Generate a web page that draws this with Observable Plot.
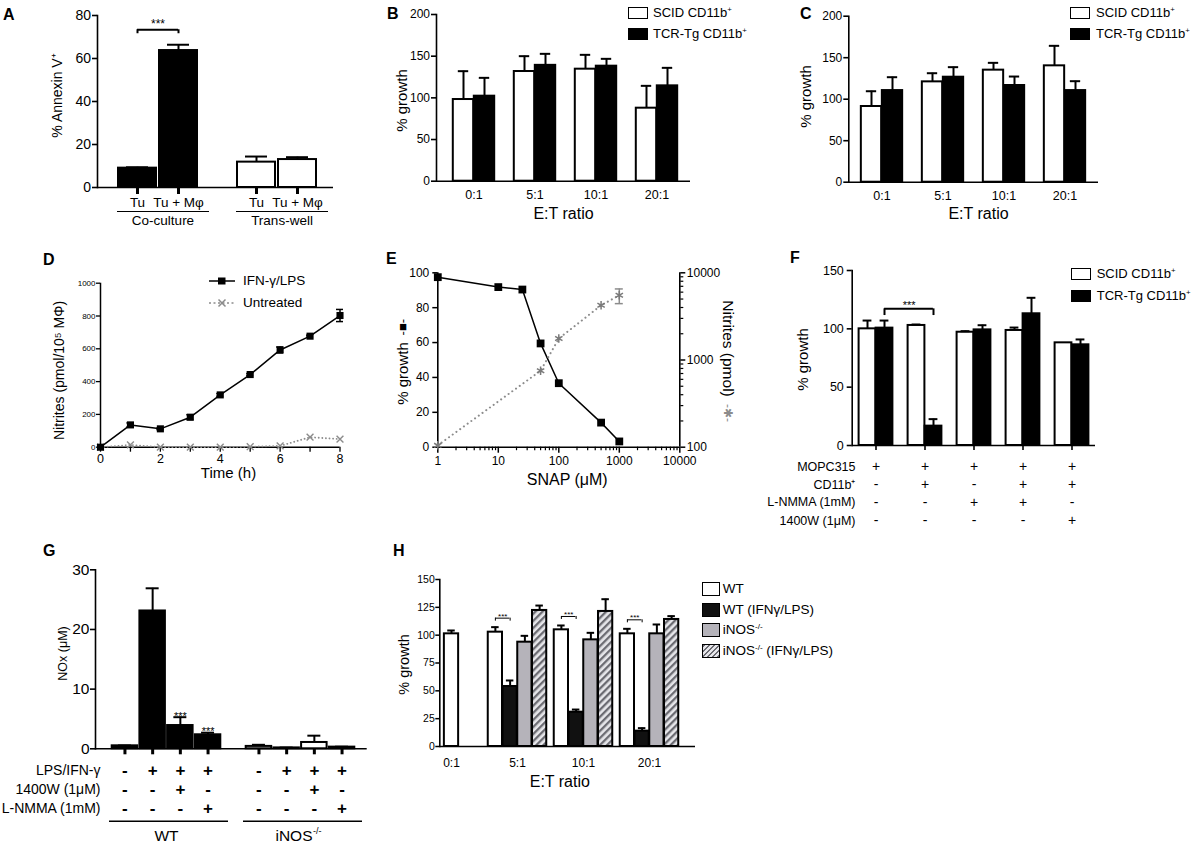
<!DOCTYPE html>
<html>
<head>
<meta charset="utf-8">
<script src="https://cdn.jsdelivr.net/npm/d3@7"></script>
<script src="https://cdn.jsdelivr.net/npm/@observablehq/plot@0.6"></script>
<style>
html,body{margin:0;padding:0;background:#fff;}
#fig{position:relative;width:1194px;height:846px;overflow:hidden;font-family:"Liberation Sans",Arial,Helvetica,sans-serif;color:#000;}
#fig > svg{position:absolute;left:0;top:0;}
.lg{position:absolute;display:flex;align-items:center;white-space:nowrap;font-size:14px;line-height:16px;}
.sw{display:inline-block;box-sizing:border-box;border:1.8px solid #000;}
.lt{position:absolute;font-weight:bold;font-size:16px;line-height:16px;}
.lg sup{font-size:0.6em;vertical-align:0.6em;line-height:0;}
</style>
</head>
<body>
<div id="fig"></div>
<script>
// ================= DATA =================
// Panel A
const aGroups = ["Co-culture", "Trans-well"];
const aBars = ["Tu", "Tu + Mφ"];
const aTu = [9.0, 11.8];
const aTuErr = [9.4, 14.4];
const aTuMphi = [63.7, 13.0];
const aTuMphiErr = [66.4, 14.1];
const aSig = [{c1: "Co-culture", s1: 0, c2: "Co-culture", s2: 1, label: "***"}];

// Panels B, C
const ratios = ["0:1", "5:1", "10:1", "20:1"];
const cd11bSeries = ["SCID CD11b", "TCR-Tg CD11b"];
const bSCID = [98, 131.6, 134.4, 87.6];
const bSCIDErr = [132, 150, 151.6, 114.4];
const bTCR = [102, 139, 138, 114.4];
const bTCRErr = [124, 152.8, 146.8, 136];
const cSCID = [91.2, 120.9, 135, 140.2];
const cSCIDErr = [109.6, 131.3, 143.8, 164.3];
const cTCR = [110.4, 126.5, 116.5, 110.4];
const cTCRErr = [126.5, 138.6, 127.3, 121.7];

// Panel D
const dSeries = ["IFN-γ/LPS", "Untreated"];
const dTime = [0, 1, 2, 3, 4, 5, 6, 7, 8];
const dIFN = [0, 136, 112, 183, 319, 443, 593, 677, 803];
const dIFNErr = [0, 12, 5, 15, 8, 6, 18, 6, 37];
const dUntreated = [0, 14, 0, 0, 0, 3, 8, 61, 49];

// Panel E
const eSNAP = [1, 10, 25, 50, 100, 500, 1000];
const eGrowth = [97.5, 91.8, 90.4, 59.5, 36.7, 14.1, 3.3];
const eNitSNAP = [1, 50, 100, 500, 1000];
const eNitrites = [105, 753, 1762, 4236, 5520];
const eNitLow = [null, null, null, null, 4430];
const eNitHigh = [null, null, null, null, 6530];

// Panel F
const fConds = ["c1", "c2", "c3", "c4", "c5"];
const fSCID = [100, 102.9, 97.1, 98.6, 88];
const fSCIDErr = [107.1, 103.7, 98, 101.1, 88];
const fTCR = [100.6, 16.6, 99.1, 112.9, 86.3];
const fTCRErr = [107.1, 22.6, 103.1, 126.6, 90.9];
const fRowLabels = ["MOPC315", "CD11b⁺", "L-NMMA (1mM)", "1400W (1μM)"];
const fTable = [["+", "+", "+", "+", "+"], ["-", "+", "-", "+", "+"], ["-", "-", "+", "+", "-"], ["-", "-", "-", "-", "+"]];
const fSig = [{c1: "c1", s1: 1, c2: "c2", s2: 1, label: "***"}];

// Panel G
const gGenotypes = ["WT", "iNOS-/-"];
const gNone = [0.5, 0.4], gNoneErr = [0.55, 0.67];
const gLPS = [23.1, 0.15], gLPSErr = [26.9, 0.2];
const gLPS1400W = [3.9, 1.06], gLPS1400WErr = [5.3, 2.2];
const gLPSNMMA = [2.35, 0.28], gLPSNMMAErr = [2.7, 0.35];
const gRowLabels = ["LPS/IFN-γ", "1400W (1μM)", "L-NMMA (1mM)"];
const gTable = [["-", "+", "+", "+"], ["-", "-", "+", "-"], ["-", "-", "-", "+"]];
const gStars = [["", "", "***", "***"], ["", "", "", ""]];

// Panel H
const hSeries = ["WT", "WT (IFNγ/LPS)", "iNOS-/-", "iNOS-/- (IFNγ/LPS)"];
const hWT = [101.2, 102.7, 104.8, 101.2], hWTErr = [104.2, 107.2, 108.7, 105.7];
const hWTIFN = [null, 53.9, 30.8, 13.8], hWTIFNErr = [null, 59.3, 33.2, 16.5];
const hKO = [null, 93.7, 95.8, 101.2], hKOErr = [null, 99.4, 102.1, 109.6];
const hKOIFN = [null, 122.2, 121.3, 114.1], hKOIFNErr = [null, 126.6, 132.3, 117.1];
const hSig = [
  {c1: "5:1", s1: 0, c2: "5:1", s2: 1, label: "***"},
  {c1: "10:1", s1: 0, c2: "10:1", s2: 1, label: "***"},
  {c1: "20:1", s1: 0, c2: "20:1", s2: 1, label: "***"}
];

// ================= HELPERS =================
const W = 1194, H = 846;
const FONT = '"Liberation Sans", Arial, Helvetica, sans-serif';
const fig = document.getElementById("fig");
const base = F => ({
  width: W, height: H,
  marginLeft: F.l, marginRight: W - F.r, marginTop: F.t, marginBottom: H - F.b,
  style: {background: "transparent", fontFamily: FONT, overflow: "visible", color: "#000"}
});
const add = svg => { fig.appendChild(svg); return svg; };
const label = (F, s, x, y, o = {}) =>
  Plot.text([s], {frameAnchor: "top-left", dx: x - F.l, dy: y - F.t, text: d => d,
    textAnchor: "middle", lineAnchor: "middle", fontSize: 15, fill: "#000", ...o});

function barRows(cats, vals, errs, fills, slot) {
  const rows = [];
  cats.forEach((c, i) => {
    const present = vals.map((_, k) => k).filter(k => vals[k][i] != null);
    present.forEach((k, j) => rows.push({
      cat: c, k, v: vals[k][i], e: errs[k][i],
      fill: typeof fills === "function" ? fills(c, k) : fills[k],
      off: (j - (present.length - 1) / 2) * slot
    }));
  });
  return rows;
}
function barMarks(rows, {step, barW, capW, sw = 2}) {
  const marks = [];
  for (const [, g] of d3.groups(rows, r => `${r.off}|${r.fill}`)) {
    const {off, fill} = g[0];
    const il = step / 2 + off - barW / 2, ir = step / 2 - off - barW / 2;
    marks.push(Plot.barY(g, {x: "cat", y: "v", fill, stroke: "#000", strokeWidth: sw, insetLeft: il, insetRight: ir}));
    const ge = g.filter(r => r.e != null && r.e > r.v);
    marks.push(Plot.ruleX(ge, {x: "cat", y1: "v", y2: "e", dx: off, stroke: "#000", strokeWidth: sw}));
    marks.push(Plot.tickY(ge, {x: "cat", y: "e", stroke: "#000", strokeWidth: sw,
      insetLeft: step / 2 + off - capW / 2, insetRight: step / 2 - off - capW / 2}));
  }
  return marks;
}
function sigMarks(rows, sigs, domain, {step, dyB, drop, dyS, fs, sw = 1.5}) {
  const marks = [];
  for (const s of sigs) {
    const r1 = rows.find(r => r.cat === s.c1 && r.k === s.s1);
    const r2 = rows.find(r => r.cat === s.c2 && r.k === s.s2);
    const gap = (domain.indexOf(s.c2) - domain.indexOf(s.c1)) * step;
    const d = {...s, y: Math.max(r1.e ?? r1.v, r2.e ?? r2.v)};
    const mid = (r1.off + gap + r2.off) / 2;
    marks.push(
      Plot.ruleY([d], {x1: "c1", x2: "c2", y: "y", dy: dyB, insetLeft: step / 2 + r1.off, insetRight: step / 2 - r2.off, stroke: "#000", strokeWidth: sw}),
      Plot.ruleX([d], {x: "c1", y1: "y", y2: "y", dx: r1.off, dy: dyB, insetBottom: -drop, stroke: "#000", strokeWidth: sw}),
      Plot.ruleX([d], {x: "c2", y1: "y", y2: "y", dx: r2.off, dy: dyB, insetBottom: -drop, stroke: "#000", strokeWidth: sw}),
      Plot.text([d], {x: "c1", y: "y", dx: mid, dy: dyS, text: "label", fontSize: fs})
    );
  }
  return marks;
}
function place(html, left, top, cls, extra = "") {
  const d = document.createElement("div");
  d.className = cls;
  d.style.cssText = `left:${left}px;top:${top}px;${extra}`;
  d.innerHTML = html;
  fig.appendChild(d);
  return d;
}
function swatchLegend(items, left, centers, {w, h, gap, fs}) {
  items.forEach((it, i) => place(
    `<span class="sw" style="width:${w}px;height:${h}px;margin-right:${gap}px;background:${it.bg}"></span><span>${it.html}</span>`,
    left, centers[i] - 8, "lg", `font-size:${fs}px`));
}
const sup = s => s.replace(/(CD11b)$/, "$1<sup>+</sup>").replace(/-\/-/, "<sup>-/-</sup>");

// ================= PANEL A =================
{
  const F = {l: 97, r: 333, t: 15, b: 187};
  const step = 119, slot = 41;
  const rows = barRows(aGroups, [aTu, aTuMphi], [aTuErr, aTuMphiErr], (c) => c === "Co-culture" ? "#000" : "#fff", slot);
  add(Plot.plot({...base(F),
    x: {type: "band", domain: aGroups, range: [98, 336], padding: 0, axis: null},
    y: {domain: [0, 80], axis: null},
    marks: [
      ...barMarks(rows, {step, barW: 38, capW: 22}),
      Plot.ruleY([0], {strokeWidth: 1.6}),
      Plot.frame({anchor: "left", strokeWidth: 1.6}),
      Plot.axisY({ticks: [0, 20, 40, 60, 80], tickSize: 5, tickPadding: 1.5, fontSize: 14, strokeWidth: 1.6, label: null}),
      ...aBars.map((b, k) => Plot.axisX({tickSize: 7, tickPadding: 3, strokeWidth: 3, dx: (k - 0.5) * slot, tickFormat: () => b, fontSize: 13.5, label: null})),
      Plot.ruleY(aGroups, {x1: d => d, x2: d => d, y: () => 0, dy: 24, insetLeft: 19, insetRight: 8, strokeWidth: 1}),
      Plot.text(aGroups, {x: d => d, y: () => 0, dy: 33, dx: 5, text: d => d, fontSize: 13.5}),
      ...sigMarks(rows, aSig, aGroups, {step, dyB: -15, drop: 4, dyS: -21, fs: 12, sw: 2}),
      label(F, "% Annexin V⁺", 57, 95, {rotate: -90, fontSize: 14})
    ]
  }));
}

// ================= PANELS B, C =================
function growthPanel(F, range, scid, scidErr, tcr, tcrErr, titleX, ylabX, ylabY) {
  const step = (range[1] - range[0]) / ratios.length;
  const rows = barRows(ratios, [scid, tcr], [scidErr, tcrErr], ["#fff", "#000"], 21);
  add(Plot.plot({...base(F),
    x: {type: "band", domain: ratios, range, padding: 0, axis: null},
    y: {domain: [0, 200], axis: null},
    marks: [
      ...barMarks(rows, {step, barW: 21, capW: 11}),
      Plot.ruleY([0], {strokeWidth: 1.6}),
      Plot.frame({anchor: "left", strokeWidth: 1.6}),
      Plot.axisY({ticks: [0, 50, 100, 150, 200], tickSize: 5, tickPadding: 1.5, fontSize: 12, strokeWidth: 1.6, label: null}),
      Plot.axisX({tickSize: 0, tickPadding: 9.3, fontSize: 12.5, label: null}),
      label(F, "% growth", ylabX, ylabY, {rotate: -90, fontSize: 15}),
      label(F, "E:T ratio", titleX, 213, {fontSize: 16})
    ]
  }));
}
growthPanel({l: 436, r: 690, t: 14, b: 180.7}, [441.7, 688.1], bSCID, bSCIDErr, bTCR, bTCRErr, 563, 401.5, 100);
growthPanel({l: 848.3, r: 1098, t: 15.7, b: 181.7}, [849.2, 1095.9], cSCID, cSCIDErr, cTCR, cTCRErr, 978, 805.5, 96);

// ================= PANEL D =================
{
  const F = {l: 100, r: 339.5, t: 282.7, b: 446.7};
  const rows = dTime.map((t, i) => ({t, ifn: dIFN[i], err: dIFNErr[i], unt: dUntreated[i]}));
  const er = rows.filter(d => d.err > 0);
  add(Plot.plot({...base(F),
    x: {domain: [0, 8], axis: null},
    y: {domain: [0, 1000], axis: null},
    marks: [
      Plot.ruleY([0], {strokeWidth: 1.5}),
      Plot.ruleX([0], {strokeWidth: 1.5}),
      Plot.axisY({ticks: d3.range(0, 1001, 200), tickFormat: d3.format("d"), tickSize: 4, tickPadding: 1, fontSize: 8, strokeWidth: 1.3, label: null}),
      Plot.axisX({ticks: dTime, tickFormat: d => d % 2 ? "" : d, tickSize: 5, tickPadding: 1.5, fontSize: 12.5, strokeWidth: 1.3, label: null}),
      Plot.line(rows, {x: "t", y: "unt", stroke: "#8c8c8c", strokeWidth: 1.8, strokeDasharray: "0.1,3.5", strokeLinecap: "round"}),
      Plot.dot(rows, {x: "t", y: "unt", symbol: "times", r: 3.2, stroke: "#8c8c8c", strokeWidth: 1.4}),
      Plot.line(rows, {x: "t", y: "ifn", stroke: "#000", strokeWidth: 1.5}),
      Plot.ruleX(er, {x: "t", y1: d => d.ifn - d.err, y2: d => d.ifn + d.err, strokeWidth: 1.5}),
      Plot.ruleY(er, {x1: "t", x2: "t", y: d => d.ifn + d.err, insetLeft: -3.5, insetRight: -3.5, strokeWidth: 1.5}),
      Plot.ruleY(er, {x1: "t", x2: "t", y: d => d.ifn - d.err, insetLeft: -3.5, insetRight: -3.5, strokeWidth: 1.5}),
      Plot.dot(rows, {x: "t", y: "ifn", symbol: "square", r: 4, fill: "#000"}),
      label(F, "Nitrites (pmol/10⁵ MΦ)", 59, 370, {rotate: -90, fontSize: 14}),
      label(F, "Time (h)", 228, 473, {fontSize: 15})
    ]
  }));
}

// ================= PANEL E =================
{
  const F = {l: 437.3, r: 679.3, t: 272.3, b: 446.7};
  const rows = eSNAP.map((s, i) => ({s, g: eGrowth[i]}));
  const nrows = eNitSNAP.map((s, i) => ({s, n: eNitrites[i], lo: eNitLow[i], hi: eNitHigh[i]}));
  const nerr = nrows.filter(d => d.lo != null);
  const isDecade = v => Math.abs(Math.log10(v) - Math.round(Math.log10(v))) < 1e-6;
  const xMinor = d3.scaleLog().domain([1, 10000]).ticks().filter(v => !isDecade(v));
  const yMinor = d3.scaleLog().domain([100, 10000]).ticks().filter(v => !isDecade(v));
  add(Plot.plot({...base(F),
    x: {type: "log", domain: [1, 10000], axis: null},
    y: {domain: [0, 100], axis: null},
    marks: [
      Plot.ruleY([0], {strokeWidth: 1.6}),
      Plot.ruleX([1], {strokeWidth: 1.6}),
      Plot.axisY({ticks: [0, 20, 40, 60, 80, 100], tickSize: 5, tickPadding: 3.5, fontSize: 12, strokeWidth: 1.5, label: null}),
      Plot.axisX({ticks: [1, 10, 100, 1000, 10000], tickFormat: d3.format("d"), tickSize: 6, tickPadding: 3, fontSize: 12, strokeWidth: 1.5, label: null}),
      Plot.axisX({ticks: xMinor, tickFormat: () => "", tickSize: 3.5, strokeWidth: 1.2, label: null}),
      Plot.line(rows, {x: "s", y: "g", stroke: "#000", strokeWidth: 1.5}),
      Plot.dot(rows, {x: "s", y: "g", symbol: "square", r: 4.4, fill: "#000"}),
      label(F, "SNAP (μM)", 566.7, 479.3, {fontSize: 16}),
      label(F, "% growth", 402.7, 373, {rotate: -90, fontSize: 15}),
      label(F, "-■-", 402.7, 326.7, {rotate: -90, fontSize: 13})
    ]
  }));
  add(Plot.plot({...base(F),
    x: {type: "log", domain: [1, 10000], axis: null},
    y: {type: "log", domain: [100, 10000], axis: null},
    marks: [
      Plot.ruleX([10000], {strokeWidth: 1.6}),
      Plot.axisY({anchor: "right", ticks: [100, 1000, 10000], tickFormat: d3.format("d"), tickSize: 5, tickPadding: 2, fontSize: 12, strokeWidth: 1.5, label: null}),
      Plot.axisY({anchor: "right", ticks: yMinor, tickFormat: () => "", tickSize: 3, strokeWidth: 1.2, label: null}),
      Plot.line(nrows, {x: "s", y: "n", stroke: "#8c8c8c", strokeWidth: 2, strokeDasharray: "0.1,4.5", strokeLinecap: "round"}),
      Plot.ruleX(nerr, {x: "s", y1: "lo", y2: "hi", stroke: "#8c8c8c", strokeWidth: 1.5}),
      Plot.ruleY(nerr, {x1: "s", x2: "s", y: "hi", insetLeft: -4, insetRight: -4, stroke: "#8c8c8c", strokeWidth: 1.5}),
      Plot.ruleY(nerr, {x1: "s", x2: "s", y: "lo", insetLeft: -4, insetRight: -4, stroke: "#8c8c8c", strokeWidth: 1.5}),
      Plot.dot(nrows, {x: "s", y: "n", symbol: "asterisk", r: 4, stroke: "#7a7a7a", strokeWidth: 1.5}),
      label(F, "Nitrites (pmol)", 727.5, 348, {rotate: 90, fontSize: 15.5}),
      label(F, "-✱-", 727.5, 412.6, {rotate: 90, fontSize: 12, fill: "#8c8c8c"})
    ]
  }));
}

// ================= PANEL F =================
{
  const F = {l: 851.7, r: 1095, t: 270, b: 445};
  const range = [850.4, 1096.4], step = (range[1] - range[0]) / fConds.length;
  const rows = barRows(fConds, [fSCID, fTCR], [fSCIDErr, fTCRErr], ["#fff", "#000"], 17);
  const rowDy = [21, 39, 56.7, 75];
  add(Plot.plot({...base(F),
    x: {type: "band", domain: fConds, range, padding: 0, axis: null},
    y: {domain: [0, 150], axis: null},
    marks: [
      ...barMarks(rows, {step, barW: 17, capW: 9}),
      Plot.ruleY([0], {strokeWidth: 1.6}),
      Plot.frame({anchor: "left", strokeWidth: 1.6}),
      Plot.axisY({ticks: [0, 50, 100, 150], tickSize: 5, tickPadding: 3.4, fontSize: 12.5, strokeWidth: 1.6, label: null}),
      Plot.axisX({tickSize: 5, tickFormat: () => "", strokeWidth: 1.6, label: null}),
      ...fRowLabels.flatMap((lab, r) => [
        Plot.text(fConds, {x: d => d, y: () => 0, dy: rowDy[r], text: (d, i) => fTable[r][i], fontSize: 14}),
        Plot.text([lab], {frameAnchor: "bottom-left", dx: 3.3, dy: rowDy[r], textAnchor: "end", lineAnchor: "middle", text: d => d, fontSize: 12.5})
      ]),
      ...sigMarks(rows, fSig, fConds, {step, dyB: -11.7, drop: 6.7, dyS: -15.5, fs: 11, sw: 2}),
      label(F, "% growth", 803, 359, {rotate: -90, fontSize: 15})
    ]
  }));
}

// ================= PANEL G =================
{
  const F = {l: 95, r: 366.7, t: 569.3, b: 748.3};
  const range = [98.5, 366.5], step = (range[1] - range[0]) / 2, slot = 27.7;
  const rows = barRows(gGenotypes, [gNone, gLPS, gLPS1400W, gLPSNMMA], [gNoneErr, gLPSErr, gLPS1400WErr, gLPSNMMAErr],
    (c) => c === "WT" ? "#000" : "#fff", slot);
  const rowDy = [21.7, 41, 60];
  const starRows = rows.filter(r => gStars[gGenotypes.indexOf(r.cat)][r.k]);
  add(Plot.plot({...base(F),
    x: {type: "band", domain: gGenotypes, range, padding: 0, axis: null},
    y: {domain: [0, 30], axis: null},
    marks: [
      ...barMarks(rows, {step, barW: 25.5, capW: 13}),
      Plot.ruleY([0], {strokeWidth: 1.6}),
      Plot.frame({anchor: "left", strokeWidth: 1.6}),
      Plot.axisY({ticks: [0, 10, 20, 30], tickSize: 5, tickPadding: 1, fontSize: 15.5, strokeWidth: 1.6, label: null}),
      ...[0, 1, 2, 3].map(k => Plot.axisX({tickSize: 6, tickFormat: () => "", strokeWidth: 3, dx: (k - 1.5) * slot, label: null})),
      ...d3.groups(starRows, r => r.off).map(([off, g]) =>
        Plot.text(g, {x: "cat", y: "e", dx: off, dy: -1, text: r => gStars[gGenotypes.indexOf(r.cat)][r.k], fontSize: 11})),
      ...gRowLabels.flatMap((lab, r) => [
        ...[0, 1, 2, 3].map(k => Plot.text(gGenotypes, {x: d => d, y: () => 0, dx: (k - 1.5) * slot, dy: rowDy[r], text: () => gTable[r][k], fontSize: 17, fontWeight: "bold"})),
        Plot.text([lab], {frameAnchor: "bottom-left", dx: 5, dy: rowDy[r], textAnchor: "end", lineAnchor: "middle", text: d => d, fontSize: 14})
      ]),
      Plot.ruleY(gGenotypes, {x1: d => d, x2: d => d, y: () => 0, dy: 72.4, insetLeft: 10, insetRight: 5, strokeWidth: 1.6}),
      Plot.text(gGenotypes.slice(0, 1), {x: d => d, y: () => 0, dy: 87, text: d => d, fontSize: 15.5}),
      Plot.text(gGenotypes.slice(1), {x: d => d, y: () => 0, dy: 87, dx: 12, textAnchor: "end", text: d => d.replace("-/-", ""), fontSize: 15.5}),
      Plot.text(gGenotypes.slice(1), {x: d => d, y: () => 0, dy: 82, dx: 12.5, textAnchor: "start", text: () => "-/-", fontSize: 9}),
      label(F, "NOx (μM)", 62, 653, {rotate: -90, fontSize: 12.5})
    ]
  }));
}

// ================= PANEL H =================
{
  const F = {l: 439.3, r: 695, t: 579, b: 746};
  const range = [416.75, 682.75], step = (range[1] - range[0]) / ratios.length, slot = 14.75;
  const fills = ["#fff", "#111", "#b5b3ba", "url(#hatch)"];
  const rows = barRows(ratios, [hWT, hWTIFN, hKO, hKOIFN], [hWTErr, hWTIFNErr, hKOErr, hKOIFNErr], fills, slot);
  const svg = add(Plot.plot({...base(F),
    x: {type: "band", domain: ratios, range, padding: 0, axis: null},
    y: {domain: [0, 150], axis: null},
    marks: [
      ...barMarks(rows, {step, barW: slot, capW: 8, sw: 2}),
      Plot.ruleY([0], {strokeWidth: 1.6}),
      Plot.frame({anchor: "left", strokeWidth: 1.6}),
      Plot.axisY({ticks: [0, 25, 50, 75, 100, 125, 150], tickSize: 4, tickPadding: 1, fontSize: 10.5, strokeWidth: 1.5, label: null}),
      Plot.axisX({tickSize: 0, tickPadding: 11.5, fontSize: 12, label: null}),
      ...sigMarks(rows, hSig, ratios, {step, dyB: -9, drop: 3, dyS: -11, fs: 8, sw: 1}),
      label(F, "% growth", 404, 664, {rotate: -90, fontSize: 14.5}),
      label(F, "E:T ratio", 559.3, 781.7, {fontSize: 16})
    ]
  }));
  const defs = d3.select(svg).insert("defs", ":first-child");
  const pat = defs.append("pattern").attr("id", "hatch").attr("patternUnits", "userSpaceOnUse")
    .attr("width", 5).attr("height", 5).attr("patternTransform", "rotate(45)");
  pat.append("rect").attr("width", 5).attr("height", 5).attr("fill", "#e6e6ea");
  pat.append("rect").attr("width", 2.3).attr("height", 5).attr("fill", "#6b6b72");
}

// ================= LEGENDS & LETTERS =================
const cdItems = [{bg: "#fff", html: sup(cd11bSeries[0])}, {bg: "#000", html: sup(cd11bSeries[1])}];
swatchLegend(cdItems, 628, [13, 33.8], {w: 20, h: 12, gap: 5, fs: 13});
swatchLegend(cdItems, 1070, [13, 34], {w: 20, h: 12, gap: 6, fs: 13});
swatchLegend(cdItems, 1070.7, [273.8, 295.8], {w: 20, h: 12, gap: 6, fs: 13});
swatchLegend([
  {bg: "#fff", html: sup(hSeries[0])},
  {bg: "#111", html: sup(hSeries[1])},
  {bg: "#b5b3ba", html: sup(hSeries[2])},
  {bg: "repeating-linear-gradient(-45deg,#6b6b72 0 1.6px,#e6e6ea 1.6px 3.6px)", html: sup(hSeries[3])}
], 701.7, [589, 610, 630, 650.7], {w: 18, h: 14, gap: 3, fs: 13.5});

place(`<svg width="30" height="14" style="margin-right:6px"><line x1="2" x2="28" y1="7" y2="7" stroke="#000" stroke-width="1.5"/><rect x="11" y="3.5" width="7.5" height="7" fill="#000"/></svg><span>${dSeries[0]}</span>`, 207, 272.7, "lg", "font-size:13.5px");
place(`<svg width="30" height="14" style="margin-right:6px"><line x1="2" x2="28" y1="7" y2="7" stroke="#8c8c8c" stroke-width="1.5" stroke-dasharray="2,2.5"/><path d="M11.5,3.5L18.5,10.5M18.5,3.5L11.5,10.5" stroke="#8c8c8c" stroke-width="1.5"/></svg><span>${dSeries[1]}</span>`, 207, 295.3, "lg", "font-size:13.5px");

[["A", 3, 7], ["B", 387, 6], ["C", 800, 6], ["D", 43, 252], ["E", 386, 251], ["F", 790, 250], ["G", 43, 543], ["H", 393, 543]]
  .forEach(([t, x, y]) => place(t, x, y, "lt"));
</script>
</body>
</html>
